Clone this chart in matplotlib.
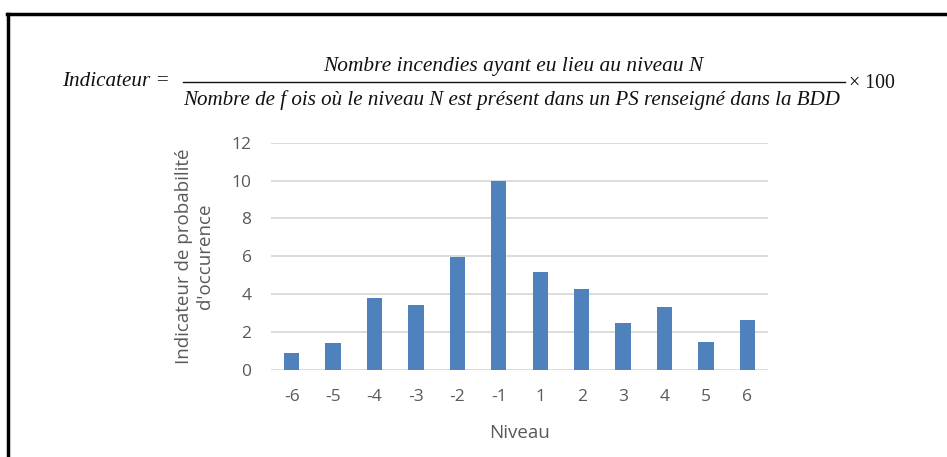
import matplotlib.pyplot as plt
from matplotlib.lines import Line2D

niveaux = ["-6", "-5", "-4", "-3", "-2", "-1", "1", "2", "3", "4", "5", "6"]
indicateur = [0.9, 1.4, 3.8, 3.45, 5.95, 10.0, 5.2, 4.25, 2.5, 3.35, 1.5, 2.65]

plt.rcParams.update({"font.family": ["Open Sans", "DejaVu Sans"]})

W, H = 947, 457
fig = plt.figure(figsize=(W / 100, H / 100), dpi=100, facecolor="white")
ax = fig.add_axes([271 / W, 1 - 370 / H, (768 - 271) / W, (370 - 142.7) / H])

x = range(len(niveaux))
ax.bar(x, indicateur, width=0.37, color="#4f81bd", zorder=3)
ax.set_xlim(-0.5, len(niveaux) - 0.5)
ax.set_ylim(0, 12)
ax.set_yticks(range(0, 13, 2))
ax.set_xticks(list(x))
ax.set_xticklabels(niveaux)
ax.grid(axis="y", color="#d9d9d9", linewidth=1.3, zorder=0)
for s in ax.spines.values():
    s.set_visible(False)
ax.tick_params(length=0, labelsize=12.5, labelcolor="#595959")
ax.tick_params(axis="x", pad=14)
ax.tick_params(axis="y", pad=14)
ax.set_xlabel("Niveau", fontsize=13.5, color="#595959", labelpad=13)
ax.set_ylabel("Indicateur de probabilité\nd'occurence", fontsize=13.5, color="#595959",
              labelpad=13, linespacing=1.15)

# formule, construite en morceaux
serif = dict(family="Liberation Serif", style="italic", color="#111111")
renderer = fig.canvas.get_renderer()


def put(xc, y, s, target_w, ha="center", **kw):
    t = fig.text(xc / W, 1 - y / H, s, ha=ha, va="center", fontsize=15, **kw)
    w = t.get_window_extent(renderer).width
    t.set_fontsize(15 * target_w / w)
    return t


put(323, 66, "Nombre incendies ayant eu lieu au niveau N", 380, ha="left", **serif)
put(183, 100, "Nombre de f ois où le niveau N est présent dans un PS renseigné dans la BDD",
    660, ha="left", **serif)
put(62, 82, "Indicateur =", 108, ha="left", **serif)
put(849, 83, "× 100", 46, ha="left", family="Liberation Serif", color="#111111")
fig.add_artist(Line2D([183 / W, 845 / W], [1 - 82 / H] * 2, transform=fig.transFigure,
                      color="#111111", linewidth=1.0))

# cadre noir (haut et gauche)
fig.add_artist(Line2D([7 / W, 1.0], [1 - 13.5 / H] * 2, transform=fig.transFigure,
                      color="black", linewidth=2.5))
fig.add_artist(Line2D([8 / W] * 2, [0, 1 - 13.5 / H], transform=fig.transFigure,
                      color="black", linewidth=2.5))

fig.savefig("out.png", dpi=100)
